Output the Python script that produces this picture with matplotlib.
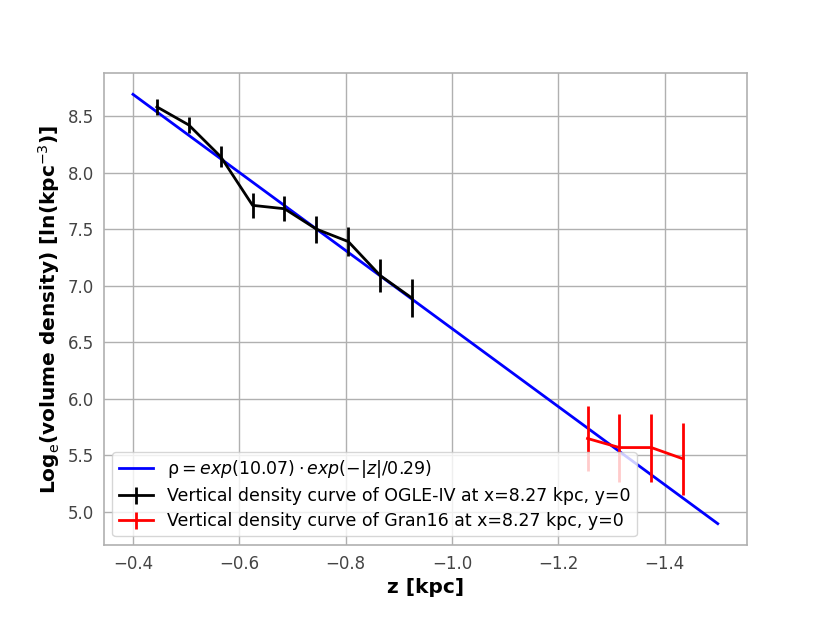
import numpy as np
import matplotlib
matplotlib.use('Agg')
import matplotlib.pyplot as plt

# OGLE-IV vertical density points
z_ogle = [-0.445, -0.505, -0.565, -0.625, -0.685, -0.745, -0.805, -0.865, -0.925]
d_ogle = [8.58, 8.42, 8.14, 7.71, 7.68, 7.50, 7.39, 7.09, 6.89]
e_ogle = [0.07, 0.07, 0.09, 0.11, 0.11, 0.12, 0.13, 0.15, 0.17]

# Gran16 points
z_gran = [-1.255, -1.315, -1.375, -1.435]
d_gran = [5.65, 5.57, 5.57, 5.47]
e_gran = [0.29, 0.30, 0.30, 0.32]

# fit: ln rho = 10.07 - |z|/0.29
fit_a = 10.07
fit_h = 0.29
z_fit = np.linspace(-0.4, -1.5, 100)
d_fit = fit_a - np.abs(z_fit) / fit_h

fig = plt.figure(figsize=(8.3, 6.23), dpi=100)
ax = fig.add_axes([0.125, 0.125, 0.775, 0.758])

ax.plot(z_fit, d_fit, color='blue', lw=2,
        label=r'ρ$= exp(10.07) \cdot exp(-|z|/0.29)$')
ax.errorbar(z_ogle, d_ogle, yerr=e_ogle, color='black', lw=2,
            label='Vertical density curve of OGLE-IV at x=8.27 kpc, y=0')
ax.errorbar(z_gran, d_gran, yerr=e_gran, color='red', lw=2,
            label='Vertical density curve of Gran16 at x=8.27 kpc, y=0')

ax.invert_xaxis()
ax.grid(True, color='#b0b0b0', lw=1.0)
ax.set_axisbelow(True)
for s in ax.spines.values():
    s.set_color('#b0b0b0')
    s.set_linewidth(1.2)
ax.tick_params(length=0, labelsize=12, labelcolor='#444444', pad=7)

ax.set_xlabel('z [kpc]', fontsize=14.5, fontweight='bold')
ax.set_ylabel(r'Log$_{\rm e}$(volume density) [ln(kpc$^{-3}$)]',
              fontsize=14.5, fontweight='bold')

ax.legend(loc='lower left', fontsize=12.5, framealpha=0.8,
          borderaxespad=0.5, handlelength=2.0, borderpad=0.35,
          labelspacing=0.4)

fig.savefig('out.png', dpi=100)
